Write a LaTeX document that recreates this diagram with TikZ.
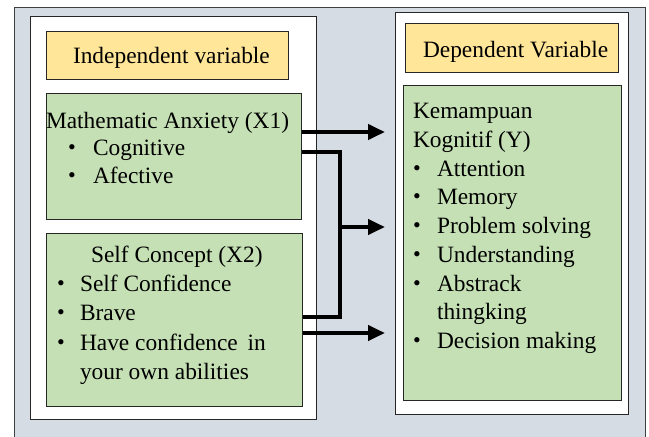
\documentclass[tikz,border=0pt]{standalone}
\usepackage{fontspec}
\setmainfont{Liberation Serif}
\usetikzlibrary{arrows.meta}
\definecolor{outerbg}{HTML}{D6DCE4}
\definecolor{outerln}{HTML}{404040}
\definecolor{orangebg}{HTML}{FFE699}
\definecolor{greenbg}{HTML}{C5E0B4}
\definecolor{boxln}{HTML}{262626}
\tikzset{
  panel/.style={draw=boxln, line width=1.3pt, fill=white, rectangle, anchor=north west, inner sep=0pt},
  headbox/.style={draw=boxln, line width=1.3pt, fill=orangebg, rectangle, anchor=north west, inner sep=0pt},
  greenbox/.style={draw=boxln, line width=1.3pt, fill=greenbg, rectangle, anchor=north west, inner sep=0pt},
  txt/.style={anchor=base west, inner sep=0pt, outer sep=0pt, font=\fontsize{23.4}{28.8}\selectfont, text=black},
  bul/.style={anchor=base west, inner sep=0pt, outer sep=0pt, font=\fontsize{22}{24}\selectfont, text=black},
  conn/.style={line width=4pt, draw=black, line join=miter},
  arr/.style={conn, -{Triangle[length=17pt,width=15pt]}},
}
\begin{document}
\begin{tikzpicture}[x=1pt,y=-1pt]
\useasboundingbox (0,0) rectangle (649,437);
\clip (0,0) rectangle (649,437);
% outer frame
\node[draw=outerln, line width=1.3pt, fill=outerbg, rectangle, anchor=north west, inner sep=0pt,
      minimum width=631, minimum height=460] (outer) at (14,7) {};
% white panels
\node[panel, minimum width=286, minimum height=403] (lpanel) at (30,16) {};
\node[panel, minimum width=233, minimum height=402] (rpanel) at (395,12) {};
% header boxes
\node[headbox, minimum width=242, minimum height=48] (indep) at (46,31) {};
\node[headbox, minimum width=213, minimum height=49] (dep) at (405,23) {};
% green boxes
\node[greenbox, minimum width=255, minimum height=126] (ma) at (46,93) {};
\node[greenbox, minimum width=256, minimum height=173] (sc) at (46,233) {};
\node[greenbox, minimum width=218, minimum height=315] (ky) at (403,85) {};
% header texts
\node[txt] (tindep) at (73,63) {Independent variable};
\node[txt] (tdep) at (423,57) {Dependent Variable};
% Mathematic anxiety
\node[txt] (tma) at (46,128) {Mathematic Anxiety (X1)};
\node[bul] (bma1) at (68,154) {\textbullet};
\node[txt] (tma1) at (93,155) {Cognitive};
\node[bul] (bma2) at (68,182) {\textbullet};
\node[txt] (tma2) at (93,183) {Afective};
% Self concept
\node[txt] (tsc) at (91,262) {Self Concept (X2)};
\node[bul] (bsc1) at (57,290) {\textbullet};
\node[txt] (tsc1) at (80,291) {Self Confidence};
\node[bul] (bsc2) at (57,319) {\textbullet};
\node[txt] (tsc2) at (80,320) {Brave};
\node[bul] (bsc3) at (57,349) {\textbullet};
\node[txt] (tsc3) at (80,350) {Have confidence\, in};
\node[txt] (tsc4) at (80,379) {your own abilities};
% Kemampuan kognitif
\node[txt] (tky1) at (413,118) {Kemampuan};
\node[txt] (tky2) at (413,147) {Kognitif (Y)};
\node[bul] (bky1) at (413,175) {\textbullet};
\node[txt] (tky3) at (437,176) {Attention};
\node[bul] (bky2) at (413,203) {\textbullet};
\node[txt] (tky4) at (437,204) {Memory};
\node[bul] (bky3) at (413,232) {\textbullet};
\node[txt] (tky5) at (437,233) {Problem solving};
\node[bul] (bky4) at (413,261) {\textbullet};
\node[txt] (tky6) at (437,262) {Understanding};
\node[bul] (bky5) at (413,290) {\textbullet};
\node[txt] (tky7) at (437,291) {Abstrack};
\node[txt] (tky8) at (437,319) {thingking};
\node[bul] (bky6) at (413,347) {\textbullet};
\node[txt] (tky9) at (437,348) {Decision making};
% connectors
\coordinate (e1) at (385,132);
\coordinate (e2) at (385,227);
\coordinate (e3) at (385,333);
\coordinate (j1) at (340,152);
\coordinate (j2) at (340,317);
\coordinate (j3) at (338,227);
\draw[arr] (ma.east |- e1) -- (e1);
\draw[conn] (ma.east |- j1) -- (j1) -- (j2) -- (sc.east |- j2);
\draw[arr] (j3) -- (e2);
\draw[arr] (sc.east |- e3) -- (e3);
\end{tikzpicture}
\end{document}
